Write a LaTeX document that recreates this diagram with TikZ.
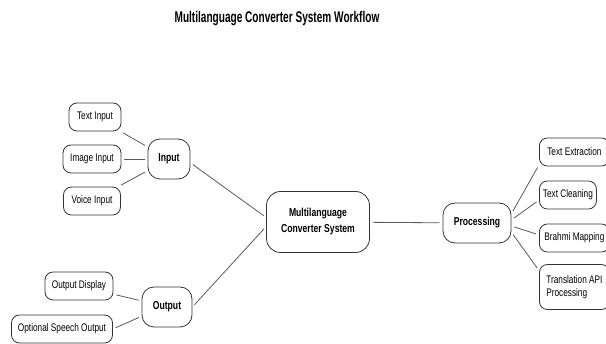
\documentclass[tikz,border=0pt]{standalone}
\usepackage{fontspec}
\setmainfont{Liberation Sans}[FakeStretch=0.75]
\newfontfamily\titlefont{Liberation Sans}[FakeStretch=0.65]
\usepackage{tikz}
\usetikzlibrary{positioning,calc}

\begin{document}
\begin{tikzpicture}[x=1pt,y=-1pt,
  box/.style={draw=black!80, line width=0.8pt, rounded corners=8pt, align=center,
    font=\fontsize{11}{13}\selectfont, inner sep=2pt, minimum height=28pt},
  hub/.style={box, font=\fontsize{11.5}{16}\selectfont\bfseries, rounded corners=12pt, minimum height=40pt},
  link/.style={draw=black!65, line width=0.8pt, shorten >=3pt, shorten <=3pt}]
\useasboundingbox (0,0) rectangle (606,344);

% Title
\node[font=\titlefont\fontsize{15.5}{18}\selectfont\bfseries] (title) at (277,19) {Multilanguage Converter System Workflow};

% Input side
\node[box, minimum width=52pt] (text) at (95,117) {Text Input};
\node[box, minimum width=58pt] (image) at (92,159) {Image Input};
\node[box, minimum width=57pt] (voice) at (92,201) {Voice Input};
\node[hub, minimum width=42pt] (input) at (169,159) {Input};

% Output side
\node[box, minimum width=68pt] (display) at (79,286) {Output Display};
\node[box, minimum width=101pt] (speech) at (62,329) {Optional Speech Output};
\node[hub, minimum width=50pt] (output) at (167,307) {Output};

% Centre
\node[hub, minimum width=103pt, minimum height=61pt, rounded corners=14pt] (mcs) at (318,222) {Multilanguage\\Converter System};

% Processing side
\node[hub, minimum width=68pt] (proc) at (477,223) {Processing};
\node[box, anchor=west, minimum width=70pt] (extract) at (539,152) {Text Extraction};
\node[box, anchor=west, minimum width=57pt] (clean) at (539,195) {Text Cleaning};
\node[box, anchor=west, minimum width=70pt] (brahmi) at (539,238) {Brahmi Mapping};
\node[box, anchor=west, minimum width=70pt, minimum height=45pt, align=left] (transl) at (539,287) {Translation API\\Processing};

% Links
\draw[link] (text) -- (input);
\draw[link] (image) -- (input);
\draw[link] (voice) -- (input);
\draw[link] (display) -- (output);
\draw[link] (speech.east) -- (output.200);
\draw[link] (input.-10) -- (mcs.175);
\draw[link] (output.east) -- (mcs.185);
\draw[link] (mcs) -- (proc);
\draw[link] (proc.15) -- (extract.200);
\draw[link] (proc.5) -- (clean.190);
\draw[link] (proc.-5) -- (brahmi.175);
\draw[link] (proc.-15) -- (transl.155);
\end{tikzpicture}
\end{document}
